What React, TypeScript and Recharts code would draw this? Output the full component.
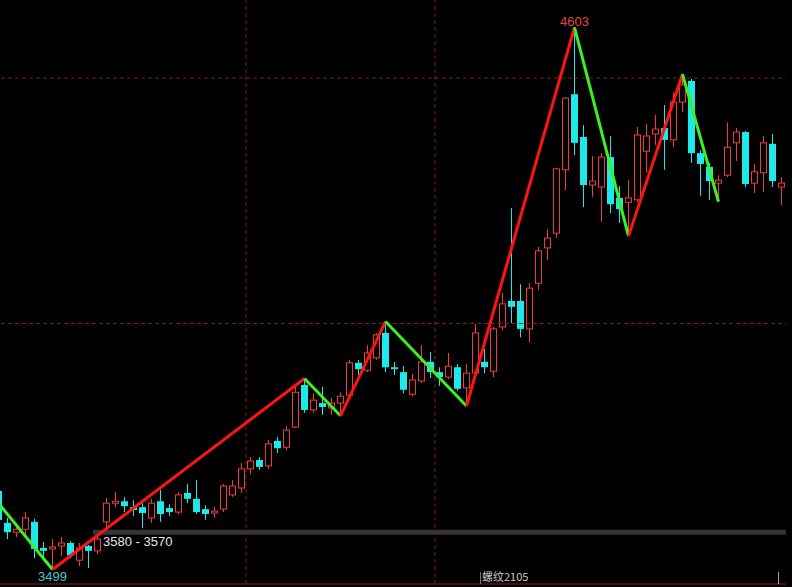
import {
  Bar,
  ComposedChart,
  Label,
  Line,
  ReferenceArea,
  ReferenceDot,
  ReferenceLine,
  XAxis,
  YAxis
} from "recharts";

// daily candles, oldest first (first one is cut off at the left edge)
const opens = [
  3659, 3594, 3575, 3581, 3596, 3543, 3541, 3547, 3553, 3518, 3547,
  3537, 3596, 3634, 3638, 3626, 3626, 3604, 3638, 3624, 3616,
  3655, 3643, 3622, 3614, 3622, 3651, 3665, 3704, 3722, 3710,
  3761, 3748, 3789, 3875, 3824, 3838, 3828, 3838, 3854, 3920,
  3905, 3930, 3981, 3911, 3901, 3856, 3883, 3922, 3901, 3891,
  3911, 3869, 3899, 3922, 3903, 3993, 4046, 4046, 3989, 4082,
  4154, 4184, 4313, 4467, 4380, 4282, 4278, 4339, 4256, 4247,
  4252, 4351, 4386, 4398, 4374, 4451, 4494, 4347, 4319, 4286,
  4302, 4368, 4390, 4286, 4307, 4366, 4278
];
const closes = [
  3600, 3575, 3581, 3604, 3541, 3537, 3545, 3553, 3528, 3543, 3537,
  3561, 3634, 3638, 3628, 3620, 3614, 3634, 3612, 3616, 3651,
  3643, 3616, 3612, 3618, 3669, 3669, 3704, 3720, 3708, 3755,
  3746, 3783, 3860, 3824, 3844, 3830, 3838, 3852, 3920, 3907,
  3940, 3977, 3911, 3907, 3865, 3885, 3922, 3901, 3891, 3913,
  3867, 3899, 3981, 3911, 3989, 4040, 4034, 3989, 4072, 4148,
  4174, 4315, 4459, 4368, 4282, 4290, 4339, 4243, 4233, 4256,
  4384, 4382, 4396, 4374, 4451, 4486, 4347, 4325, 4290, 4292,
  4359, 4390, 4284, 4309, 4368, 4290, 4286
];
const highs = [
  3665, 3604, 3590, 3616, 3602, 3555, 3561, 3565, 3557, 3553, 3549,
  3565, 3645, 3657, 3647, 3640, 3634, 3643, 3661, 3632, 3657,
  3673, 3681, 3630, 3626, 3673, 3681, 3716, 3728, 3728, 3763,
  3769, 3791, 3871, 3888, 3858, 3871, 3848, 3860, 3926, 3926,
  3956, 3981, 4004, 3922, 3913, 3897, 3956, 3942, 3911, 3940,
  3917, 3917, 3999, 3948, 3993, 4062, 4235, 4080, 4082, 4156,
  4192, 4317, 4461, 4603, 4404, 4341, 4347, 4382, 4280, 4292,
  4400, 4406, 4425, 4445, 4471, 4508, 4498, 4353, 4327, 4302,
  4410, 4398, 4392, 4325, 4382, 4386, 4298
];
const lows = [
  3590, 3561, 3565, 3569, 3522, 3522, 3499, 3526, 3522, 3506, 3502,
  3531, 3586, 3626, 3616, 3608, 3583, 3594, 3596, 3608, 3612,
  3634, 3612, 3600, 3604, 3616, 3647, 3655, 3693, 3702, 3704,
  3736, 3742, 3787, 3818, 3818, 3814, 3814, 3812, 3852, 3895,
  3901, 3926, 3901, 3895, 3858, 3852, 3879, 3889, 3873, 3887,
  3863, 3832, 3893, 3899, 3891, 3987, 4001, 3972, 3962, 4068,
  4129, 4174, 4272, 4343, 4237, 4258, 4207, 4225, 4205, 4178,
  4247, 4307, 4364, 4313, 4359, 4431, 4327, 4260, 4252, 4248,
  4298, 4331, 4278, 4266, 4268, 4278, 4241
];

// zigzag turning points: candle index and price
const pivotIdx = [0, 6, 34, 38, 43, 52, 64, 70, 76, 80];
const pivotVal = [3634, 3499, 3888, 3812, 4004, 3832, 4603, 4178, 4508, 4248];

const priceLevels = [4000, 4500];
const sessionBreaks = [28, 49];
const zoneLow = 3570;
const zoneHigh = 3580;
const zoneStart = 11;
const contract = "螺纹2105";

const UP = "#f03c3c";
const DOWN = "#1ee8e8";
const ZIG_UP = "#ff1414";
const ZIG_DOWN = "#3cf024";
const GRID = "#7a2020";
const FONT = "'Liberation Sans', Arial, sans-serif";

const segCount = pivotIdx.length - 1;

const data = opens.map((open, i) => {
  const row: any = { idx: i, open, close: closes[i], high: highs[i], low: lows[i] };
  row.range = [lows[i], highs[i]];
  for (let s = 0; s < segCount; s++) {
    if (i === pivotIdx[s]) row["z" + s] = pivotVal[s];
    if (i === pivotIdx[s + 1]) row["z" + s] = pivotVal[s + 1];
  }
  return row;
});

const Candle = (props: any) => {
  const { x, y, width, height, payload } = props;
  if (height == null || isNaN(y)) return null;
  const { open, close, high, low } = payload;
  const up = close >= open;
  const color = up ? UP : DOWN;
  const cx = Math.floor(x + width / 2) + 0.5;
  const py = (p: number) => y + ((high - p) / (high - low)) * height;
  const top = py(Math.max(open, close));
  const bot = py(Math.min(open, close));
  if (up) {
    return (
      <g>
        <line x1={cx} x2={cx} y1={y} y2={top} stroke={color} />
        <line x1={cx} x2={cx} y1={bot} y2={y + height} stroke={color} />
        <rect x={cx - 3} y={top} width={6} height={Math.max(bot - top, 1)} fill="#000" stroke={color} />
      </g>
    );
  }
  return (
    <g>
      <line x1={cx} x2={cx} y1={y} y2={y + height} stroke={color} />
      <rect x={cx - 3.5} y={top} width={7} height={Math.max(bot - top, 1)} fill={color} />
    </g>
  );
};

const zoneLabel = (p: any) => {
  const vb = p.viewBox || {};
  return (
    <text x={vb.x + 10} y={vb.y + vb.height + 11} fill="#e6e6e6" fontSize={13} fontFamily={FONT}>
      {zoneHigh} - {zoneLow}
    </text>
  );
};

const topIdx = pivotVal.indexOf(Math.max(...pivotVal));
const botIdx = pivotVal.indexOf(Math.min(...pivotVal));

export default function App() {
  return (
    <div
      style={{
        position: "fixed",
        left: 0,
        top: 0,
        width: 792,
        height: 587,
        background: "#000",
        overflow: "hidden"
      }}
    >
      <div style={{ position: "absolute", left: -6, top: 0 }}>
        <ComposedChart
          width={792}
          height={587}
          data={data}
          margin={{ top: 0, right: 0, bottom: 0, left: 0 }}
          barCategoryGap="20%"
        >
          <XAxis
            dataKey="idx"
            height={3}
            tick={false}
            tickLine={false}
            axisLine={{ stroke: "#8c1c1c" }}
          />
          <YAxis hide type="number" domain={[3469.5, 4658.9]} allowDataOverflow />
          {priceLevels.map((p) => (
            <ReferenceLine key={p} y={p} stroke={GRID} strokeDasharray="4 3" />
          ))}
          {sessionBreaks.map((b) => (
            <ReferenceLine key={b} x={b} position="start" stroke={GRID} strokeDasharray="4 3" />
          ))}
          <ReferenceArea
            y1={zoneLow}
            y2={zoneHigh}
            x1={zoneStart}
            fill="#353535"
            fillOpacity={1}
            stroke="none"
          >
            <Label content={zoneLabel} />
          </ReferenceArea>
          <Bar dataKey="range" shape={<Candle />} isAnimationActive={false} />
          {Array.from({ length: segCount }, (_, s) => (
            <Line
              key={s}
              type="linear"
              dataKey={"z" + s}
              stroke={pivotVal[s + 1] > pivotVal[s] ? ZIG_UP : ZIG_DOWN}
              strokeWidth={3}
              dot={false}
              activeDot={false}
              connectNulls
              isAnimationActive={false}
            />
          ))}
          <ReferenceDot
            x={pivotIdx[topIdx]}
            y={pivotVal[topIdx]}
            r={1}
            fill="none"
            stroke="none"
            label={{
              value: String(pivotVal[topIdx]),
              position: "top",
              offset: 0,
              fill: "#e04545",
              fontSize: 13,
              fontFamily: FONT
            }}
          />
          <ReferenceDot
            x={pivotIdx[botIdx]}
            y={pivotVal[botIdx]}
            r={1}
            fill="none"
            stroke="none"
            label={{
              value: String(pivotVal[botIdx]),
              position: "bottom",
              offset: 1,
              fill: "#44cccc",
              fontSize: 13,
              fontFamily: FONT
            }}
          />
        </ComposedChart>
      </div>
      <div style={{ position: "absolute", left: 480, top: 572, width: 1, height: 12, background: "#777" }} />
      <div style={{ position: "absolute", left: 778, top: 572, width: 1, height: 12, background: "#aaa" }} />
      <div
        style={{
          position: "absolute",
          left: 482,
          top: 569,
          fontSize: 11,
          lineHeight: "14px",
          color: "#c8c8c8",
          fontFamily: "'Noto Sans CJK SC', sans-serif",
          whiteSpace: "nowrap"
        }}
      >
        {contract}
      </div>
    </div>
  );
}
